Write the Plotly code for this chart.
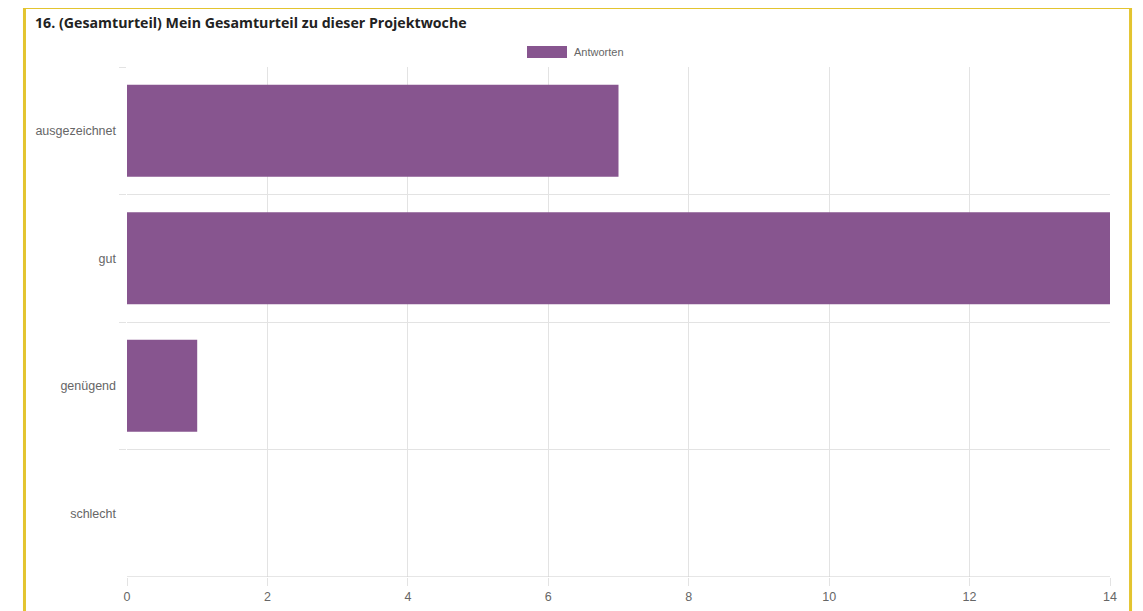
import plotly.graph_objects as go

# survey answers
categories = ["ausgezeichnet", "gut", "genügend", "schlecht"]
antworten = [7, 14, 1, 0]
x_ticks = [0, 2, 4, 6, 8, 10, 12, 14]

bar_color = "#87558f"
grid_color = "#e3e3e3"
label_color = "#666666"

pos = list(range(len(categories)))

# the page body has an 8px margin, so the figure is a bit smaller
fig = go.Figure()
fig.add_trace(go.Bar(
    x=antworten, y=pos, orientation="h", name="Antworten",
    marker=dict(color=bar_color, line=dict(width=0)),
    width=0.72, showlegend=False,
))

fig.update_layout(
    width=1135, height=603,
    margin=dict(l=119, r=33, t=59, b=34),
    paper_bgcolor="white", plot_bgcolor="white",
    font=dict(family="Liberation Sans, Arial", size=11, color=label_color),
    title=dict(
        text="<b>16. (Gesamturteil) Mein Gesamturteil zu dieser Projektwoche</b>",
        font=dict(family="Open Sans", size=14.2, color="#222222"),
        x=27 / 1135, xanchor="left", y=1 - 15 / 603, yanchor="middle",
    ),
    xaxis=dict(
        range=[0, 14], tickvals=x_ticks, showgrid=True, gridcolor=grid_color,
        gridwidth=1, zeroline=False, ticks="outside", ticklen=8,
        tickcolor=grid_color, showline=False, fixedrange=True,
        automargin=False, tickfont=dict(size=12.5, color=label_color),
    ),
    yaxis=dict(
        range=[3.5, -0.5], tickvals=pos, ticktext=categories, showgrid=False,
        zeroline=False, ticks="", ticklabelstandoff=10, showline=False,
        automargin=False, tickfont=dict(size=12.5, color=label_color),
        minor=dict(tickvals=[-0.5, 0.5, 1.5, 2.5], showgrid=True,
                   gridcolor=grid_color, gridwidth=1, ticks="outside",
                   ticklen=7, tickcolor=grid_color),
    ),
    shapes=[
        # axis baseline
        dict(type="line", xref="x", yref="y", x0=0, x1=14, y0=3.5, y1=3.5,
             line=dict(color="#cccccc", width=1)),
        # legend swatch
        dict(type="rect", xref="paper", yref="paper",
             x0=(527 - 127) / 983, x1=(567 - 127) / 983,
             y0=(577 - 58) / 510, y1=(577 - 46) / 510,
             fillcolor=bar_color, line=dict(width=0)),
        # yellow frame
        dict(type="path", xref="paper", yref="paper",
             path="M {:.4f},{:.4f} L {:.4f},{:.4f} L {:.4f},{:.4f} L {:.4f},{:.4f}".format(
                 (24.5 - 127) / 983, (577 - 620) / 510,
                 (24.5 - 127) / 983, (577 - 7.5) / 510,
                 (1130.5 - 127) / 983, (577 - 7.5) / 510,
                 (1130.5 - 127) / 983, (577 - 620) / 510),
             line=dict(color="#e3c42f", width=3)),
    ],
    annotations=[
        dict(text="Antworten", xref="paper", yref="paper",
             x=(572 - 127) / 983, y=(577 - 52) / 510, xanchor="left",
             yanchor="middle", showarrow=False,
             font=dict(size=11, color=label_color)),
    ],
)

fig.write_html("out.html")
